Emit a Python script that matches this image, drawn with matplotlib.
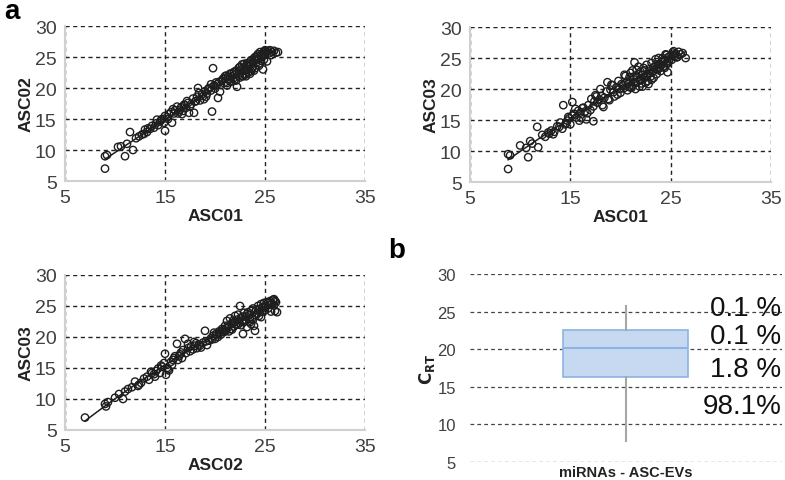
import numpy as np
import matplotlib.pyplot as plt

plt.rcParams['font.family'] = ['Liberation Sans', 'DejaVu Sans']

# panel a, top left: ASC01 vs ASC02
asc01_p1 = [9.0, 9.0, 9.2, 10.3, 10.6, 11.0, 11.2, 11.5, 11.8, 12.1,
            12.4, 12.7, 13.0, 13.2, 13.5, 13.7, 13.9, 14.1, 14.3, 14.5,
            14.7, 14.9, 15.0, 15.0, 15.2, 15.4, 15.6, 15.7, 15.9, 16.0,
            16.2, 16.3, 16.5, 16.6, 16.8, 17.0, 17.1, 17.3, 17.4, 17.6,
            17.8, 17.9, 18.0, 18.2, 18.3, 18.5, 18.7, 18.8, 19.0, 19.2,
            19.4, 19.6, 19.7, 19.8, 19.9, 20.0, 20.2, 20.3, 20.4, 20.6,
            20.7, 20.9, 21.0, 21.1, 21.2, 21.4, 21.5, 21.6, 21.7, 21.9,
            22.0, 22.1, 22.2, 22.3, 22.4, 22.5, 22.6, 22.7, 22.8, 22.9,
            23.0, 23.1, 23.2, 23.3, 23.4, 23.5, 23.6, 23.7, 23.8, 23.9,
            24.0, 24.1, 24.2, 24.3, 24.4, 24.5, 24.6, 24.7, 24.8, 24.9,
            25.0, 25.1, 25.2, 25.3, 25.4, 25.5, 25.7, 25.9, 26.1, 26.3,
            21.3, 21.8, 22.2, 22.6, 23.0, 23.4, 23.8, 24.2, 24.6, 25.0,
            20.1, 20.8, 21.5, 22.0, 22.7, 23.3, 23.9, 24.4, 24.9, 25.6,
            16.4, 16.9, 17.5, 18.1, 18.9, 19.3, 19.9, 14.6, 15.3, 13.3,
            21.2, 21.7, 22.1, 22.5, 23.1, 23.6, 24.0, 24.5, 22.9, 23.5,
            18.4, 19.1, 19.6, 20.5, 21.0, 16.7, 17.2, 15.8, 14.2, 12.9]
asc02_p1 = [7.0, 9.0, 9.2, 10.5, 10.6, 9.0, 11.0, 12.9, 10.0, 11.9,
            12.2, 12.5, 13.3, 12.9, 13.4, 13.9, 13.6, 14.3, 14.0, 14.6,
            15.0, 14.4, 13.1, 15.5, 15.3, 15.8, 16.1, 14.4, 15.9, 16.4,
            17.0, 15.9, 16.5, 16.9, 16.3, 17.2, 16.8, 17.6, 16.0, 17.4,
            18.3, 16.0, 17.8, 18.6, 20.0, 18.0, 19.0, 18.7, 19.5, 19.1,
            20.0, 19.6, 16.2, 23.2, 20.4, 19.9, 20.6, 18.4, 21.0, 20.5,
            21.2, 20.8, 21.6, 22.0, 20.4, 21.4, 22.3, 21.0, 21.9, 22.6,
            21.4, 22.8, 20.2, 22.0, 23.3, 21.7, 22.5, 23.8, 21.9, 22.8,
            23.4, 22.2, 24.0, 23.0, 22.6, 23.8, 24.5, 23.1, 24.2, 22.8,
            25.0, 24.0, 24.6, 25.5, 23.6, 25.8, 24.4, 25.2, 23.0, 25.9,
            25.3, 25.9, 24.3, 26.0, 25.6, 26.1, 25.8, 26.0, 25.7, 25.8,
            21.8, 21.5, 22.4, 23.0, 22.9, 24.1, 23.5, 25.2, 25.4, 26.1,
            20.9, 21.5, 21.1, 22.2, 22.0, 23.6, 24.8, 24.8, 24.6, 25.3,
            16.2, 17.3, 17.0, 17.9, 18.2, 19.8, 20.3, 14.8, 15.0, 13.5,
            20.8, 22.4, 21.2, 23.4, 21.9, 22.7, 23.2, 24.0, 23.9, 22.3,
            19.2, 18.6, 20.6, 19.4, 21.9, 15.8, 17.9, 16.6, 14.9, 12.6]

# panel a, top right: ASC01 vs ASC03
asc01_p2 = [8.8, 8.8, 9.0, 10.0, 10.6, 10.8, 11.0, 11.2, 11.7, 11.8,
            12.2, 12.5, 12.8, 13.1, 13.4, 13.7, 14.0, 14.2, 14.3, 14.5,
            14.7, 14.9, 15.0, 15.2, 15.2, 15.4, 15.6, 15.8, 16.0, 16.1,
            16.3, 16.5, 16.6, 16.8, 17.0, 17.1, 17.3, 17.3, 17.5, 17.7,
            17.9, 18.0, 18.2, 18.4, 18.6, 18.7, 18.9, 19.0, 19.2, 19.4,
            19.6, 19.8, 20.0, 20.1, 20.3, 20.4, 20.6, 20.7, 20.9, 21.0,
            21.1, 21.2, 21.3, 21.4, 21.5, 21.6, 21.7, 21.8, 21.9, 22.0,
            22.1, 22.2, 22.3, 22.4, 22.5, 22.6, 22.7, 22.8, 22.9, 23.0,
            23.1, 23.2, 23.3, 23.4, 23.5, 23.6, 23.7, 23.8, 23.9, 24.0,
            24.1, 24.2, 24.3, 24.4, 24.5, 24.6, 24.7, 24.8, 24.9, 25.0,
            25.1, 25.2, 25.3, 25.4, 25.5, 25.6, 25.8, 26.0, 26.2, 26.5,
            20.2, 20.8, 21.3, 21.9, 22.4, 22.9, 23.5, 24.1, 24.7, 25.2,
            16.7, 17.4, 18.1, 18.8, 19.3, 19.9, 14.8, 15.5, 13.9, 12.9,
            21.0, 21.7, 22.2, 22.7, 23.3, 23.8, 24.3, 24.8, 21.5, 22.0,
            20.5, 21.1, 21.6, 22.1, 22.6, 23.1, 23.6, 24.4, 25.7, 19.7,
            18.3, 17.6, 16.2, 15.9, 14.6, 13.3, 19.1, 20.9, 23.9, 24.6]
asc03_p2 = [7.1, 9.5, 9.3, 10.9, 10.5, 9.0, 11.6, 11.2, 13.9, 10.6,
            12.6, 12.3, 13.0, 13.3, 13.1, 14.0, 14.6, 13.6, 17.4, 14.3,
            14.9, 15.3, 14.3, 17.9, 15.7, 16.0, 15.4, 16.5, 16.2, 15.3,
            17.0, 16.4, 15.1, 17.4, 16.6, 18.4, 14.8, 17.2, 19.0, 17.8,
            18.3, 20.0, 17.4, 18.6, 19.6, 21.1, 18.2, 19.9, 20.6, 18.8,
            20.3, 21.3, 19.4, 20.8, 20.1, 22.3, 21.0, 19.8, 21.9, 22.6,
            20.5, 23.0, 21.6, 24.3, 20.0, 22.2, 21.2, 23.6, 20.4, 22.8,
            21.6, 20.4, 23.4, 22.0, 21.0, 23.9, 22.4, 20.8, 23.2, 22.0,
            24.2, 22.8, 21.8, 23.6, 24.8, 22.4, 23.1, 25.0, 24.0, 22.9,
            24.4, 25.0, 23.6, 24.6, 25.6, 24.2, 22.7, 25.2, 24.8, 25.4,
            24.7, 25.9, 26.1, 25.3, 25.7, 25.1, 26.0, 25.6, 25.8, 25.0,
            20.6, 20.9, 22.0, 21.5, 23.0, 22.5, 23.2, 23.9, 24.1, 25.5,
            16.1, 18.0, 18.9, 18.4, 19.5, 20.0, 15.5, 16.8, 13.9, 12.8,
            21.2, 21.9, 22.3, 21.3, 23.5, 23.3, 24.7, 24.5, 21.0, 21.4,
            22.1, 20.2, 23.1, 20.9, 22.0, 21.5, 24.0, 23.4, 25.2, 19.1,
            17.1, 18.8, 16.9, 14.9, 14.5, 12.7, 20.7, 20.3, 23.5, 25.5]

# panel a, bottom left: ASC02 vs ASC03
asc02_p3 = [7.0, 9.0, 9.1, 9.3, 10.0, 10.4, 10.8, 11.0, 11.3, 11.7,
            12.0, 12.3, 12.6, 12.9, 13.2, 13.4, 13.7, 13.9, 14.1, 14.3,
            14.5, 14.7, 14.9, 15.0, 15.1, 15.2, 15.4, 15.6, 15.7, 15.9,
            16.0, 16.2, 16.3, 16.5, 16.7, 16.8, 17.0, 17.1, 17.3, 17.5,
            17.6, 17.8, 18.0, 18.2, 18.4, 18.6, 18.8, 19.0, 19.2, 19.4,
            19.6, 19.8, 20.0, 20.1, 20.3, 20.4, 20.6, 20.7, 20.9, 21.0,
            21.1, 21.2, 21.3, 21.4, 21.5, 21.6, 21.7, 21.8, 21.9, 22.0,
            22.1, 22.2, 22.3, 22.4, 22.5, 22.6, 22.7, 22.8, 22.9, 23.0,
            23.1, 23.2, 23.3, 23.4, 23.5, 23.6, 23.7, 23.8, 23.9, 24.0,
            24.1, 24.2, 24.3, 24.4, 24.5, 24.6, 24.7, 24.8, 24.9, 25.0,
            25.1, 25.2, 25.3, 25.4, 25.5, 25.6, 25.7, 25.8, 25.9, 26.0,
            26.0, 26.1, 26.2, 25.9, 20.5, 21.1, 21.7, 22.3, 22.9, 23.5,
            24.1, 24.7, 25.3, 17.9, 18.5, 19.1, 19.7, 16.4, 15.3, 14.0,
            20.2, 20.8, 21.4, 22.0, 22.6, 23.2, 23.8, 24.4, 25.0, 18.1,
            16.6, 15.8, 14.6, 13.6, 12.4, 22.8, 23.6, 24.6, 17.3, 19.9]
asc03_p3 = [7.0, 9.2, 8.8, 9.5, 10.2, 10.8, 10.0, 11.2, 11.6, 11.9,
            12.8, 12.1, 12.6, 13.3, 13.6, 13.1, 14.2, 14.0, 14.5, 14.9,
            14.2, 15.2, 15.8, 17.3, 13.9, 15.0, 14.6, 16.0, 15.5, 16.6,
            16.9, 18.9, 16.3, 17.2, 16.6, 17.9, 19.7, 17.4, 18.2, 17.7,
            18.5, 18.0, 18.6, 18.2, 18.8, 18.3, 19.1, 21.0, 18.7, 19.4,
            19.8, 20.2, 19.7, 20.5, 20.0, 20.9, 20.4, 21.3, 20.8, 21.8,
            21.0, 22.6, 21.5, 21.9, 23.0, 21.3, 22.2, 22.6, 21.7, 23.4,
            22.0, 22.8, 23.6, 22.3, 25.0, 23.1, 22.5, 20.5, 23.9, 22.7,
            23.3, 21.6, 24.0, 23.5, 22.4, 24.2, 23.0, 24.6, 21.8, 21.0,
            24.4, 23.8, 25.0, 24.5, 24.0, 25.3, 24.7, 24.9, 25.5, 24.3,
            25.0, 25.6, 24.6, 25.2, 25.8, 24.1, 25.4, 26.0, 25.1, 25.8,
            24.2, 25.6, 24.0, 26.1, 20.7, 21.4, 21.2, 22.0, 22.4, 22.9,
            23.5, 24.1, 25.5, 19.2, 18.6, 19.3, 19.6, 16.9, 14.8, 13.6,
            20.3, 21.1, 20.9, 22.4, 21.9, 23.7, 22.8, 23.4, 24.8, 19.0,
            17.5, 16.3, 15.4, 14.4, 12.3, 23.3, 22.1, 23.2, 18.9, 20.7]

# panel b: box plot of C_RT
crt_stats = {'med': 20.2, 'q1': 16.3, 'q3': 22.6, 'whislo': 7.8, 'whishi': 25.8}
pct_labels = ['0.1 %', '0.1 %', '1.8 %', '98.1%']
pct_y = [25.5, 21.7, 17.4, 12.4]

ticks_x = [5, 15, 25, 35]
ticks_y = [5, 10, 15, 20, 25, 30]

fig = plt.figure(figsize=(7.85, 4.81), dpi=100)


def scatter_panel(rect, x, y, xlabel, ylabel):
    ax = fig.add_axes(rect)
    ax.scatter(x, y, s=28, facecolors='none', edgecolors='#1e1e1e',
               linewidths=1.0, zorder=3)
    coef = np.polyfit(x, y, 2)
    xs = np.linspace(min(x), max(x), 100)
    ax.plot(xs, np.polyval(coef, xs), color='#1e1e1e', lw=1.1, zorder=4)
    ax.set_xlim(5, 35)
    ax.set_ylim(5, 30)
    ax.set_xticks(ticks_x)
    ax.set_yticks(ticks_y)
    ax.grid(True, color='#222222', linestyle=(0, (3, 2.5)), lw=1.0)
    for s in ['top', 'right']:
        ax.spines[s].set_visible(False)
    for s in ['left', 'bottom']:
        ax.spines[s].set_color('#d0d0d0')
        ax.spines[s].set_linewidth(1.5)
    ax.tick_params(length=0, labelsize=14, labelcolor='#404040', pad=6)
    ax.set_xlabel(xlabel, fontsize=12.5, fontweight='bold', color='#222222',
                  labelpad=1)
    ax.set_ylabel(ylabel, fontsize=12.5, fontweight='bold', color='#222222',
                  labelpad=1)
    return ax


scatter_panel([0.0828, 0.6216, 0.3822, 0.3222], asc01_p1, asc02_p1, 'ASC01', 'ASC02')
scatter_panel([0.5987, 0.6195, 0.3834, 0.3222], asc01_p2, asc03_p2, 'ASC01', 'ASC03')
scatter_panel([0.0828, 0.1040, 0.3822, 0.3222], asc02_p3, asc03_p3, 'ASC02', 'ASC03')

axb = fig.add_axes([0.5987, 0.0374, 0.397, 0.3909])
stats = dict(crt_stats)
stats['fliers'] = []
axb.bxp([stats], positions=[1], widths=0.8, showfliers=False, showcaps=False,
        patch_artist=True,
        boxprops=dict(facecolor='#c6d9f1', edgecolor='#8db3e2', lw=1.2),
        medianprops=dict(color='#8db3e2', lw=1.5),
        whiskerprops=dict(color='#a6a6a6', lw=1.5), zorder=3)
axb.set_xlim(0, 2)
axb.set_ylim(5, 30)
axb.set_yticks(ticks_y)
axb.set_xticks([])
axb.grid(True, axis='y', color='#444444', linestyle=(0, (3, 2.5)), lw=0.9)
for s in axb.spines.values():
    s.set_visible(False)
axb.tick_params(length=0, labelsize=12, labelcolor='#404040', pad=10)
axb.set_ylabel(r'$\mathbf{C_{RT}}$', fontsize=12, color='#222222', labelpad=0)
axb.set_xlabel('miRNAs - ASC-EVs', fontsize=10.5, fontweight='bold',
               color='#222222', labelpad=2)
for t, yv in zip(pct_labels, pct_y):
    axb.text(2.0, yv, t, ha='right', va='center', fontsize=20, color='#111111')

fig.text(0.005, 0.975, 'a', fontsize=20, fontweight='bold', va='center')
fig.text(0.495, 0.478, 'b', fontsize=20, fontweight='bold', va='center')

fig.savefig('out.png', dpi=100)
